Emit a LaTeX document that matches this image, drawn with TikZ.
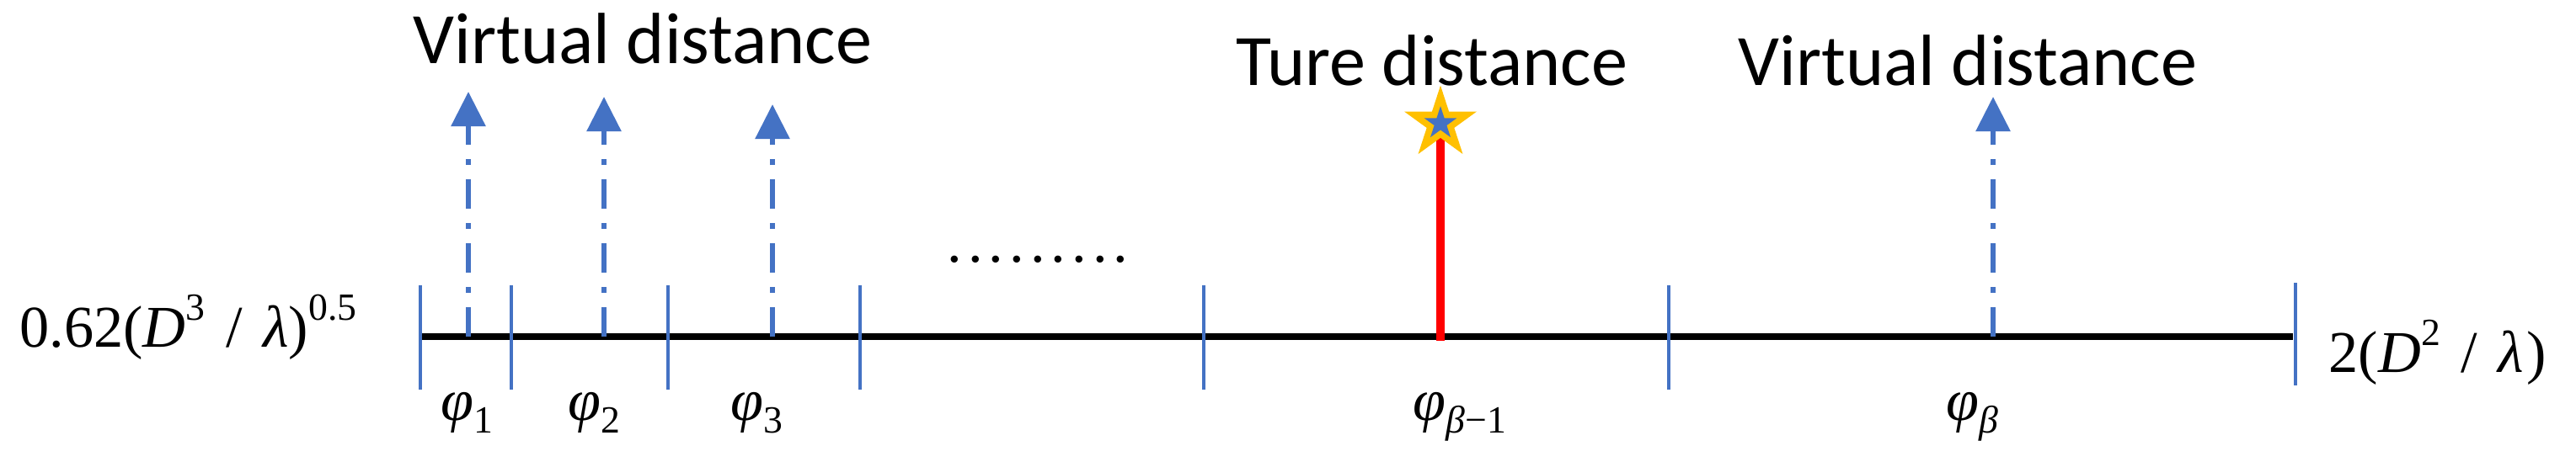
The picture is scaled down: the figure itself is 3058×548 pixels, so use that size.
\documentclass[tikz,border=0pt]{standalone}
\usepackage{fontspec}
\newfontfamily\lab{Carlito}
\newfontfamily\tnr{Liberation Serif}
\usetikzlibrary{arrows.meta,shapes.geometric}
\definecolor{tickblue}{HTML}{4472C4}
\definecolor{staror}{HTML}{FFC000}
\newcommand{\sbs}[1]{\raisebox{-0.22em}{\fontsize{13}{15}\selectfont #1}}
\newcommand{\sps}[1]{\raisebox{0.45em}{\fontsize{13}{15}\selectfont #1}}
\newcommand{\slh}{\hspace{7pt}/\hspace{7pt}}
\begin{document}
\begin{tikzpicture}[x=0.01cm,y=-0.01cm,
  axisline/.style={black,line width=2pt},
  tickmark/.style={tickblue,line width=1.2pt},
  virt/.style={tickblue,line width=1.7pt,dash pattern=on 10pt off 4.8pt on 2pt off 4.8pt,
    -{Triangle[width=11.4pt,length=11.7pt]}},
  truth/.style={red,line width=2.85pt},
  lbl/.style={font=\lab\fontsize{24.5}{29}\selectfont,inner sep=0pt},
  mathlbl/.style={font=\tnr\fontsize{20}{24}\selectfont,inner sep=0pt},
  starbig/.style={star,star points=5,star point ratio=2.618,inner sep=0pt,draw=none}]
\useasboundingbox (0,0) rectangle (3058,548);
% axis
\coordinate (L) at (499,400);
\coordinate (R) at (2722,400);
\draw[axisline] (L) -- (R);
% ticks
\foreach \x [count=\i] in {499,607,793,1021,1429,1981}{
  \coordinate (t\i a) at (\x,339);
  \coordinate (t\i b) at (\x,463);
  \draw[tickmark] (t\i a) -- (t\i b);
}
\coordinate (t7a) at (2725,336);
\coordinate (t7b) at (2725,458);
\draw[tickmark] (t7a) -- (t7b);
% virtual arrows
\foreach \x/\tp [count=\i] in {556/109,717/115,917/124,2366/115}{
  \coordinate (a\i) at (\x,400);
  \coordinate (h\i) at (\x,\tp);
  \draw[virt] (a\i) -- (h\i);
}
% true distance
\coordinate (tb) at (1710,405);
\coordinate (tt) at (1710,164);
\draw[truth] (tb) -- (tt);
\node[starbig,minimum size=25.6pt,fill=staror] (st) at (1710,146.6) {};
\node[starbig,minimum size=11.6pt,fill=tickblue] (stin) at (st.center) {};
% texts
\node[lbl,anchor=base] (v1) at (763,75) {Virtual distance};
\node[lbl,anchor=base] (tr) at (1700,101) {Ture distance};
\node[lbl,anchor=base] (v2) at (2336,101) {Virtual distance};
\node[font=\tnr\fontsize{20}{24}\selectfont,inner sep=0pt,anchor=base] (dots) at (1232,311)
  {.\hspace{2pt}.\hspace{2pt}.\hspace{2pt}.\hspace{2pt}.\hspace{2pt}.\hspace{2pt}.\hspace{2pt}.\hspace{2pt}.};
\node[mathlbl,anchor=base east] (lo) at (424,412) {0.62(\textit{D}\sps{3}\slh\textit{λ})\sps{0.5}};
\node[mathlbl,anchor=base west] (hi) at (2764,442) {2(\textit{D}\sps{2}\slh\textit{λ}\hspace{1pt})};
\node[mathlbl,anchor=base] (p1) at (554,499) {\textit{φ}\sbs{1}};
\node[mathlbl,anchor=base] (p2) at (705,499) {\textit{φ}\sbs{2}};
\node[mathlbl,anchor=base] (p3) at (898,499) {\textit{φ}\sbs{3}};
\node[mathlbl,anchor=base] (pb1) at (1733,499) {\textit{φ}\sbs{\textit{β}−1}};
\node[mathlbl,anchor=base] (pb) at (2341,499) {\textit{φ}\sbs{\textit{β}}};
\end{tikzpicture}
\end{document}
